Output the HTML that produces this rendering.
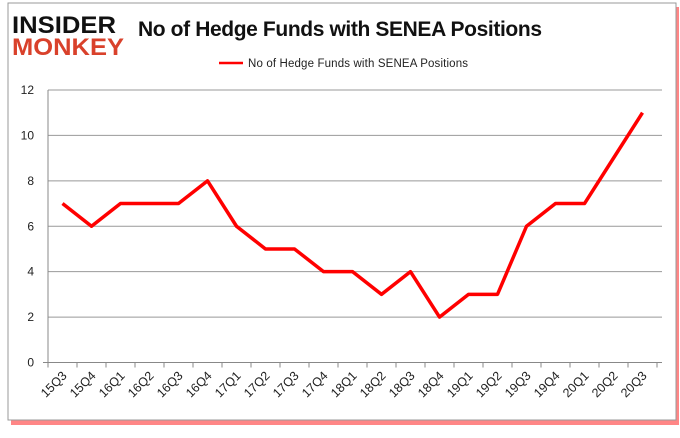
<!DOCTYPE html>
<html><head><meta charset="utf-8"><style>
body{margin:0;background:#fff;width:680px;height:433px;overflow:hidden;font-family:"Liberation Sans",sans-serif}
</style></head><body>
<svg width="680" height="433">
<rect x="11" y="7" width="668" height="418" fill="#f22" opacity="0.55"/>
<rect x="8" y="3" width="668" height="417" fill="#fff" stroke="#999"/>
<g>
<text x="12" y="33" font-size="24" font-weight="bold" fill="#111" textLength="104" lengthAdjust="spacingAndGlyphs">INSIDER</text>
<text x="12" y="55" font-size="24" font-weight="bold" fill="#d9412b" textLength="112" lengthAdjust="spacingAndGlyphs">MONKEY</text>
</g>
<text x="138" y="36" font-size="21" font-weight="bold" fill="#111" textLength="404">No of Hedge Funds with SENEA Positions</text>
<line x1="219" y1="63" x2="243" y2="63" stroke="red" stroke-width="2.5"/>
<text x="248" y="67" font-size="11.5" fill="#222" textLength="220">No of Hedge Funds with SENEA  Positions</text>
<g id="grid"></g><g id="axes"></g>
<polyline id="line" fill="none" stroke="red" stroke-width="3.5" stroke-linejoin="round"/>
</svg>
<script>
const categories=["15Q3","15Q4","16Q1","16Q2","16Q3","16Q4","17Q1","17Q2","17Q3","17Q4","18Q1","18Q2","18Q3","18Q4","19Q1","19Q2","19Q3","19Q4","20Q1","20Q2","20Q3"];
const values=[7,6,7,7,7,8,6,5,5,4,4,3,4,2,3,3,6,7,7,9,11];
const yTicks=[0,2,4,6,8,10,12];
const ns="http://www.w3.org/2000/svg";
const x0=48,x1=657,yb=362.5,yt=90,ymax=12;
const bw=(x1-x0)/categories.length;
const xs=i=>x0+bw*(i+0.5);
const ys=v=>yb-(yb-yt)*v/ymax;
const grid=document.getElementById('grid'),axes=document.getElementById('axes');
function mk(t,a,p){const e=document.createElementNS(ns,t);for(const k in a)e.setAttribute(k,a[k]);p.appendChild(e);return e;}
yTicks.forEach(v=>{
 const y=ys(v);
 const g=mk('line',{x1:v?x0:x0-5,x2:662,y1:y,y2:y,stroke:v?'#999':'#888'},grid);
 
 
 const t=mk('text',{x:34,y:y+4,'font-size':12,'text-anchor':'end',fill:'#222'},axes);
 t.textContent=v;
 
 
});
const ax=mk('line',{x1:x0,x2:x0,y1:yt,y2:yb,stroke:'#888'},axes);


for(let i=0;i<=categories.length;i++){
 const x=x0+bw*i;
 const tk=mk('line',{x1:x,x2:x,y1:yb,y2:yb+5,stroke:'#888'},axes);
 
 
}
categories.forEach((c,i)=>{
 const x=xs(i)+5,y=yb+14;
 const t=mk('text',{x:x,y:y,'font-size':12.5,'text-anchor':'end',fill:'#222',transform:`rotate(-45 ${x} ${y})`},axes);
 t.textContent=c;
 
 
});
document.getElementById('line').setAttribute('points',values.map((v,i)=>xs(i)+','+ys(v)).join(' '));
</script>
</body></html>
